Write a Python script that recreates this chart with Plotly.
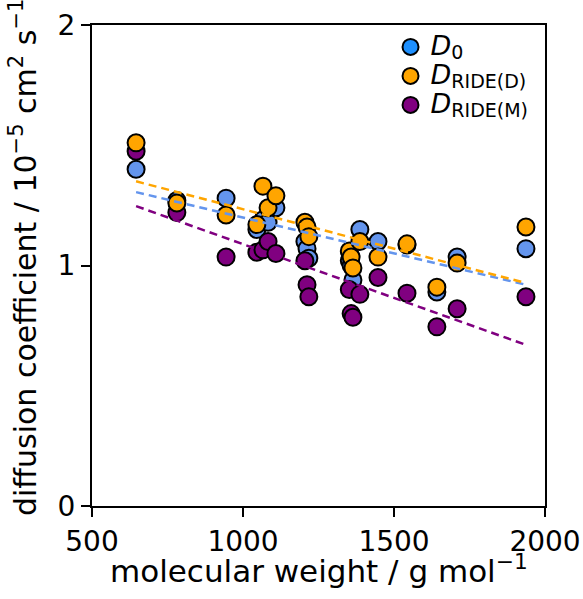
import plotly.graph_objects as go

# molecular weight (g/mol)
mw = [646, 781, 944, 1046, 1066, 1083, 1109, 1205, 1212, 1218,
      1352, 1358, 1364, 1387, 1447, 1543, 1642, 1709, 1937]
# diffusion coefficients (1e-5 cm^2/s)
D0 = [1.40, 1.27, 1.28, 1.15, 1.19, 1.18, 1.24, 1.10, 1.07, 1.03,
      1.02, 1.00, 0.94, 1.15, 1.10, 1.085, 0.89, 1.035, 1.07]
D_RIDE_D = [1.51, 1.26, 1.21, 1.17, 1.33, 1.24, 1.29, 1.18, 1.16, 1.12,
            1.06, 1.035, 0.99, 1.10, 1.035, 1.09, 0.91, 1.01, 1.16]
D_RIDE_M = [1.475, 1.22, 1.035, 1.055, 1.065, 1.10, 1.05, 1.02, 0.92, 0.87,
            0.90, 0.80, 0.785, 0.88, 0.95, 0.885, 0.745, 0.82, 0.87]

# linear-fit lines (endpoints)
fit_x = [646, 1937]
fit_D0 = [1.305, 0.92]
fit_D_RIDE_D = [1.35, 0.927]
fit_D_RIDE_M = [1.247, 0.67]

x_ticks = [500, 1000, 1500, 2000]
y_ticks = [0, 1, 2]

BLUE = "#6495ED"
BLUE_LEG = "#1E90FF"
ORANGE = "#FFA500"
PURPLE = "#800080"
FONT = "DejaVu Sans"

fig = go.Figure()

def pts(y, c):
    fig.add_trace(go.Scatter(
        x=mw, y=y, mode="markers", showlegend=False,
        marker=dict(size=17, color=c, line=dict(color="black", width=2)),
    ))

pts(D0, BLUE)
pts(D_RIDE_M, PURPLE)
pts(D_RIDE_D, ORANGE)

for fy, c in [(fit_D0, BLUE), (fit_D_RIDE_D, ORANGE), (fit_D_RIDE_M, PURPLE)]:
    fig.add_trace(go.Scatter(
        x=fit_x, y=fy, mode="lines", showlegend=False,
        line=dict(color=c, width=2.5, dash="8px,5px"),
    ))

def leg(sub):
    return ('<span style="font-size:27px"><i>D</i></span>'
            '<sub><span style="font-size:19px">' + sub + '</span></sub>')

for name, c in [(leg("0"), BLUE_LEG),
                (leg("RIDE(D)"), ORANGE),
                (leg("RIDE(M)"), PURPLE)]:
    fig.add_trace(go.Scatter(
        x=[None], y=[None], mode="markers", name=name,
        marker=dict(size=16, color=c, line=dict(color="black", width=2)),
    ))

fig.update_layout(
    width=583, height=599,
    margin=dict(l=92, r=38, t=25, b=93),
    paper_bgcolor="white", plot_bgcolor="white",
    font=dict(family=FONT, size=28, color="black"),
    legend=dict(x=0.659, y=0.995, xanchor="left", yanchor="top",
                bgcolor="rgba(0,0,0,0)", borderwidth=0,
                font=dict(size=20), tracegroupgap=0),
    xaxis=dict(range=[500, 2000], tickvals=x_ticks,
               ticktext=[str(v) for v in x_ticks],
               showgrid=False, zeroline=False,
               showline=True, linecolor="black", linewidth=2, mirror=True,
               ticks="outside", ticklen=9, tickwidth=2, tickcolor="black",
               ticklabelstandoff=0, tickfont=dict(size=28), automargin=False),
    yaxis=dict(range=[0, 2], tickvals=y_ticks,
               ticktext=[str(v) for v in y_ticks],
               showgrid=False, zeroline=False,
               showline=True, linecolor="black", linewidth=2, mirror=True,
               ticks="outside", ticklen=9, tickwidth=2, tickcolor="black",
               tickfont=dict(size=28), automargin=False),
    annotations=[
        dict(text="molecular weight / g mol<sup>−1</sup>",
             xref="paper", yref="paper", x=0.5, y=-0.13,
             xanchor="center", yanchor="middle", showarrow=False,
             font=dict(size=31)),
        dict(text="diffusion coefficient / 10<sup>−5</sup> cm<sup>2</sup> s<sup>−1</sup>",
             xref="paper", yref="paper", x=-0.150, y=0.5156,
             xanchor="center", yanchor="middle", showarrow=False,
             textangle=-90, font=dict(size=30)),
    ],
)

fig.write_html("out.html")
